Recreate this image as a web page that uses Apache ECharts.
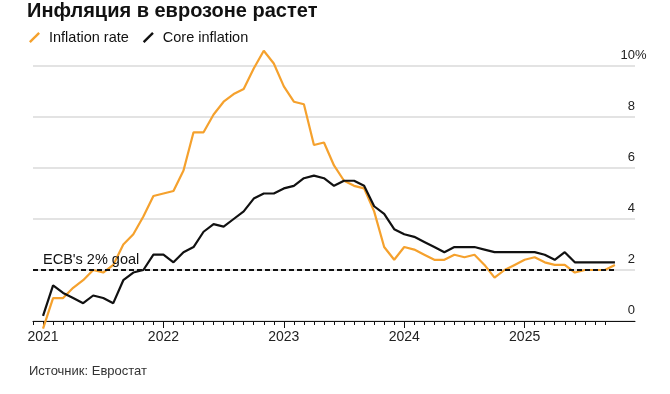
<!DOCTYPE html>
<html>
<head>
<meta charset="utf-8">
<script src="https://cdn.jsdelivr.net/npm/echarts@6/dist/echarts.min.js"></script>
<style>
html,body{margin:0;padding:0;background:#fff;}
#chart{width:670px;height:394px;}
</style>
</head>
<body>
<div id="chart"></div>
<script>
// Title / texts
const titleText = 'Инфляция в еврозоне растет';
const sourceText = 'Источник: Евростат';
const goalText = "ECB's 2% goal";
const seriesNames = ['Inflation rate', 'Core inflation'];

// X positions: first day of each month (Dec 2020 .. Dec 2025).
// A month's value is plotted at the start of the following month.
const firstYear = 2020, lastYear = 2025;
const ticks = [];
ticks.push('2020-12');
for (let y = firstYear + 1; y <= lastYear; y++) {
  for (let m = 1; m <= 12; m++) ticks.push(y + '-' + (m < 10 ? '0' + m : m));
}

// Monthly values, Dec 2020 .. Sep 2025 (% y/y)
const inflation = [
  -0.3,
  0.9, 0.9, 1.3, 1.6, 2.0, 1.9, 2.2, 3.0, 3.4, 4.1, 4.9, 5.0,
  5.1, 5.9, 7.4, 7.4, 8.1, 8.6, 8.9, 9.1, 9.9, 10.6, 10.1, 9.2,
  8.6, 8.5, 6.9, 7.0, 6.1, 5.5, 5.3, 5.2, 4.3, 2.9, 2.4, 2.9,
  2.8, 2.6, 2.4, 2.4, 2.6, 2.5, 2.6, 2.2, 1.7, 2.0, 2.2, 2.4,
  2.5, 2.3, 2.2, 2.2, 1.9, 2.0, 2.0, 2.0, 2.2
];
const core = [
  0.2,
  1.4, 1.1, 0.9, 0.7, 1.0, 0.9, 0.7, 1.6, 1.9, 2.0, 2.6, 2.6,
  2.3, 2.7, 2.9, 3.5, 3.8, 3.7, 4.0, 4.3, 4.8, 5.0, 5.0, 5.2,
  5.3, 5.6, 5.7, 5.6, 5.3, 5.5, 5.5, 5.3, 4.5, 4.2, 3.6, 3.4,
  3.3, 3.1, 2.9, 2.7, 2.9, 2.9, 2.9, 2.8, 2.7, 2.7, 2.7, 2.7,
  2.7, 2.6, 2.4, 2.7, 2.3, 2.3, 2.3, 2.3, 2.3
];
const goalValue = 2;
const yTicks = [0, 2, 4, 6, 8, 10];

const FONT = '"Liberation Sans", Arial, Helvetica, sans-serif';
const ORANGE = '#f5a12d';
const BLACK = '#111111';

const infData = [null].concat(inflation);
const coreData = [null].concat(core);
const lastTickIndex = core.length - 1; // ticks shown up to month before last point
const isYearStart = function (idx, val) { return ticks[idx].slice(5) === '01'; };

const iconPath = 'path://M0.1,10.1 L10.1,0.1 L11.9,1.9 L1.9,11.9 Z';

const chart = echarts.init(document.getElementById('chart'), null, {renderer: 'canvas'});
chart.setOption({
  animation: false,
  backgroundColor: '#ffffff',
  textStyle: {fontFamily: FONT},
  title: [
    {
      text: titleText, left: 27, top: 1, padding: 0,
      textStyle: {fontFamily: FONT, fontSize: 20, fontWeight: 'bold', color: '#111'}
    },
    {
      text: sourceText, left: 29, top: 365, padding: 0,
      textStyle: {fontFamily: FONT, fontSize: 13, fontWeight: 'normal', color: '#333'}
    }
  ],
  legend: {
    left: 29, top: 30, padding: 0,
    itemWidth: 11, itemHeight: 11, itemGap: 14,
    data: [
      {name: seriesNames[0], icon: iconPath, itemStyle: {color: ORANGE}},
      {name: seriesNames[1], icon: iconPath, itemStyle: {color: BLACK}}
    ],
    textStyle: {fontFamily: FONT, fontSize: 14.5, color: '#111', padding: [0, 0, 0, 4]}
  },
  grid: {left: 33, right: 35, top: 66, bottom: 73, containLabel: false},
  xAxis: [
    {
      type: 'category',
      data: ticks,
      boundaryGap: false,
      axisLine: {show: true, lineStyle: {color: '#111', width: 1}},
      axisTick: {
        show: true, length: 4, inside: false,
        interval: function (idx) { return idx <= lastTickIndex; },
        lineStyle: {color: '#111', width: 1}
      },
      axisLabel: {
        interval: isYearStart,
        formatter: function (val) { return val.slice(0, 4); },
        fontFamily: FONT, fontSize: 14, color: '#222', margin: 9
      },
      splitLine: {show: false}
    },
    {
      type: 'category',
      data: ticks,
      boundaryGap: false,
      position: 'bottom',
      offset: 0,
      axisLine: {show: false},
      axisTick: {
        show: true, length: 7, inside: false,
        interval: isYearStart,
        lineStyle: {color: '#111', width: 1}
      },
      axisLabel: {show: false},
      splitLine: {show: false}
    }
  ],
  yAxis: {
    type: 'value',
    position: 'right',
    min: yTicks[0], max: yTicks[yTicks.length - 1], interval: 2,
    axisLine: {show: false},
    axisTick: {show: false},
    splitLine: {show: true, lineStyle: {color: '#dadada', width: 1.5}},
    axisLabel: {
      margin: 0,
      align: 'right',
      verticalAlign: 'bottom',
      padding: [0, 0, 4, 0],
      fontFamily: FONT, fontSize: 13, color: '#222',
      formatter: function (v) { return v === 10 ? '{n|10}{p|%}' : '{n|' + v + '}'; },
      rich: {
        n: {align: 'left', fontFamily: FONT, fontSize: 13, color: '#222'},
        p: {align: 'left', width: 0.01, fontFamily: FONT, fontSize: 13, color: '#222'}
      }
    }
  },
  series: [
    {
      name: seriesNames[0], type: 'line', data: infData,
      symbol: 'none', smooth: false, connectNulls: false, clip: false,
      lineStyle: {color: ORANGE, width: 2.2},
      itemStyle: {color: ORANGE},
      z: 3
    },
    {
      name: seriesNames[1], type: 'line', data: coreData,
      symbol: 'none', smooth: false, clip: false,
      lineStyle: {color: BLACK, width: 2.2},
      itemStyle: {color: BLACK},
      z: 4,
      markLine: {
        silent: true, symbol: 'none',
        lineStyle: {color: '#111', type: [5, 3], width: 1.8},
        label: {
          show: true, position: 'insideStartTop', formatter: goalText,
          fontFamily: FONT, fontSize: 14.5, color: '#111', distance: [10, 3]
        },
        data: [[
          {coord: [ticks[0], goalValue]},
          {coord: [ticks[core.length], goalValue]}
        ]]
      }
    }
  ]
});
</script>
</body>
</html>
